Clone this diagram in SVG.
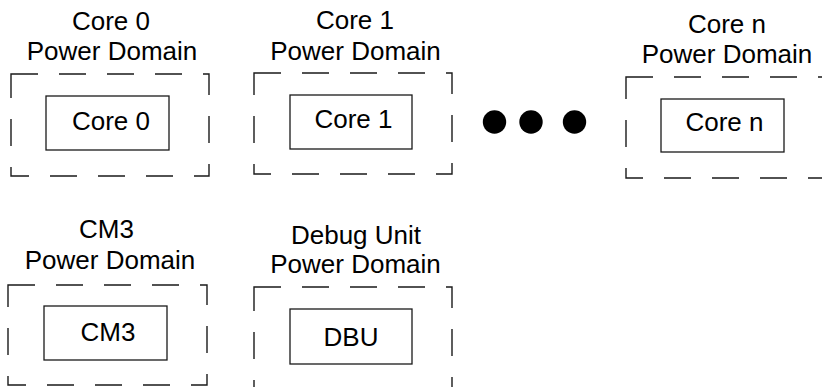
<svg xmlns="http://www.w3.org/2000/svg" width="822" height="387" viewBox="0 0 822 387">
<style>
.dom{fill:none;stroke:#1a1a1a;stroke-width:1.4;stroke-dasharray:27 21}
.box{fill:#fff;stroke:#1a1a1a;stroke-width:1.3}
text{font-family:"Liberation Sans",Arial,sans-serif;font-size:26px;fill:#000;text-anchor:middle}
</style>
<rect width="822" height="387" fill="#fff"/>
<g id="core0">
<text x="111" y="30">Core 0</text>
<text x="112" y="60">Power Domain</text>
<path class="dom" d="M11,74 H209 V176 H11 Z"/>
<rect class="box" x="46" y="96" width="123" height="54"/>
<text x="111" y="130">Core 0</text>
</g>
<g id="core1">
<text x="355" y="29">Core 1</text>
<text x="355.5" y="60">Power Domain</text>
<path class="dom" d="M254,73 H452 V174 H254 Z"/>
<rect class="box" x="290" y="95" width="122" height="54"/>
<text x="353.5" y="128">Core 1</text>
</g>
<g id="ellipsis">
<circle cx="494.5" cy="122" r="11.7"/>
<circle cx="531" cy="122" r="11.7"/>
<circle cx="574.5" cy="122" r="11.7"/>
</g>
<g id="coren">
<text x="727" y="33">Core n</text>
<text x="727" y="63">Power Domain</text>
<path class="dom" d="M626,77 H824 V178 H626 Z"/>
<rect class="box" x="661" y="99" width="123" height="53"/>
<text x="724.5" y="131">Core n</text>
</g>
<g id="cm3">
<text x="106.5" y="238">CM3</text>
<text x="110" y="269">Power Domain</text>
<path class="dom" d="M8,285 H207 V385 H8 Z"/>
<rect class="box" x="44" y="306" width="123" height="54"/>
<text x="108" y="341">CM3</text>
</g>
<g id="dbu">
<text x="356" y="244">Debug Unit</text>
<text x="355.5" y="273">Power Domain</text>
<path class="dom" d="M254,287 H452 V389 H254 Z"/>
<rect class="box" x="290" y="309" width="122" height="55"/>
<text x="351" y="346">DBU</text>
</g>
<g id="connectors"/>
</svg>
